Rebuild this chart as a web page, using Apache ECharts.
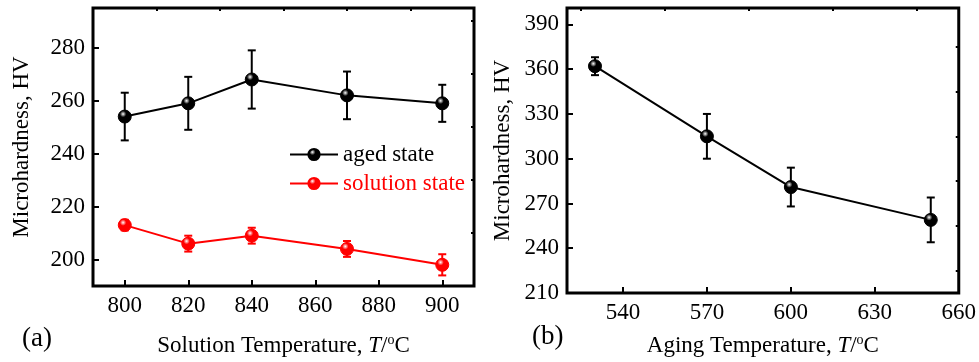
<!DOCTYPE html>
<html>
<head>
<meta charset="utf-8">
<script src="https://cdn.jsdelivr.net/npm/echarts@6/dist/echarts.min.js"></script>
<style>
  html, body { margin: 0; padding: 0; background: #fff; }
  #chart { width: 979px; height: 362px; }
</style>
</head>
<body>
<div id="chart"></div>
<script>
// panel (a): solution temperature
const solTemps = [800, 820, 840, 870, 900];
const agedHV = [254, 259, 268, 262, 259];
const agedErr = [9, 10, 11, 9, 7];
const solutionHV = [213, 206, 209, 204, 198];
const solutionErr = [2, 3, 3, 3, 4];
// panel (b): aging temperature
const agingTemps = [530, 570, 600, 650];
const agingHV = [362, 315, 281, 259];
const agingErr = [6, 15, 13, 15];

// tick positions
const aXTicks = [800, 820, 840, 860, 880, 900];
const aXMinor = [810, 830, 850, 870, 890];
const aYTicks = [200, 220, 240, 260, 280];
const aYMinor = [210, 230, 250, 270, 290];
const bXTicks = [540, 570, 600, 630, 660];
const bXMinor = [525, 555, 585, 615, 645];
const bYTicks = [210, 240, 270, 300, 330, 360, 390];
const bYMinor = [225, 255, 285, 315, 345, 375];

const FONT = '"Liberation Serif", "Times New Roman", serif';

const ball = (c) => new echarts.graphic.RadialGradient(0.38, 0.32, 0.65, [
  { offset: 0, color: '#ffffff' },
  { offset: 0.35, color: c },
  { offset: 1, color: c }
]);

const pairs = (xs, ys) => xs.map((x, i) => [x, ys[i]]);
const errData = (xs, ys, es) => xs.map((x, i) => [x, ys[i] - es[i], ys[i] + es[i]]);

function errBar(color, width) {
  return function (params, api) {
    const lo = api.coord([api.value(0), api.value(1)]);
    const hi = api.coord([api.value(0), api.value(2)]);
    const w = 4;
    const st = { stroke: color, lineWidth: width };
    return {
      type: 'group',
      children: [
        { type: 'line', shape: { x1: lo[0], y1: lo[1], x2: hi[0], y2: hi[1] }, style: st },
        { type: 'line', shape: { x1: lo[0] - w, y1: lo[1], x2: lo[0] + w, y2: lo[1] }, style: st },
        { type: 'line', shape: { x1: hi[0] - w, y1: hi[1], x2: hi[0] + w, y2: hi[1] }, style: st }
      ]
    };
  };
}

const nameStyle = {
  fontFamily: FONT, fontSize: 23, color: '#000',
  rich: {
    i: { fontFamily: FONT, fontSize: 23, fontStyle: 'italic', color: '#000' },
    sup: { fontFamily: FONT, fontSize: 14, color: '#000', verticalAlign: 'bottom', padding: [0, 0, 11, 0] }
  }
};

// main axis: labels + long ticks
function mainAxis(grid, min, max, ticks, extra) {
  return Object.assign({
    type: 'value', gridIndex: grid, min: min, max: max,
    splitLine: { show: false },
    axisLine: { show: false },
    axisTick: { show: true, inside: true, length: 6, customValues: ticks, lineStyle: { color: '#000', width: 2 } },
    axisLabel: { customValues: ticks, fontFamily: FONT, fontSize: 23, color: '#000', margin: 8 },
    nameTextStyle: nameStyle
  }, extra);
}
// extra axis for the short minor ticks
function minorAxis(grid, min, max, ticks) {
  return {
    type: 'value', gridIndex: grid, min: min, max: max,
    splitLine: { show: false },
    axisLine: { show: false },
    axisTick: { show: true, inside: true, length: 3, customValues: ticks, lineStyle: { color: '#000', width: 2 } },
    axisLabel: { show: false }
  };
}

const chart = echarts.init(document.getElementById('chart'));
chart.setOption({
  backgroundColor: '#fff',
  animation: false,
  grid: [
    { left: 93, top: 8, width: 381, height: 281, show: true, borderColor: '#000', borderWidth: 3, backgroundColor: 'transparent' },
    { left: 567, top: 8, width: 393, height: 288, show: true, borderColor: '#000', borderWidth: 3, backgroundColor: 'transparent' }
  ],
  legend: {
    data: [
      { name: 'aged state', textStyle: { color: '#000' } },
      { name: 'solution state', textStyle: { color: '#ff0000' } }
    ],
    orient: 'vertical',
    left: 284, top: 138,
    itemWidth: 48, itemHeight: 14, itemGap: 6,
    textStyle: { fontFamily: FONT, fontSize: 23 }
  },
  graphic: [
    { type: 'text', left: 22, top: 325, style: { text: '(a)', font: '27px ' + FONT, fill: '#000' } },
    { type: 'text', left: 532, top: 323, style: { text: '(b)', font: '27px ' + FONT, fill: '#000' } }
  ],
  xAxis: [
    mainAxis(0, 790, 910, aXTicks, { name: 'Solution Temperature, {i|T}/{sup|o}C', nameLocation: 'middle', nameGap: 47 }),
    minorAxis(0, 790, 910, aXMinor),
    mainAxis(1, 520, 660, bXTicks, { name: 'Aging Temperature, {i|T}/{sup|o}C', nameLocation: 'middle', nameGap: 40 }),
    minorAxis(1, 520, 660, bXMinor)
  ],
  yAxis: [
    mainAxis(0, 190, 295, aYTicks, { name: 'Microhardness, HV', nameLocation: 'middle', nameGap: 60 }),
    minorAxis(0, 190, 295, aYMinor),
    mainAxis(1, 210, 401, bYTicks, { name: 'Microhardness, HV', nameLocation: 'middle', nameGap: 53 }),
    minorAxis(1, 210, 401, bYMinor)
  ],
  series: [
    {
      name: 'aged state', type: 'line', xAxisIndex: 0, yAxisIndex: 0,
      data: pairs(solTemps, agedHV),
      symbol: 'circle', symbolSize: 13, z: 3,
      lineStyle: { color: '#000', width: 2 },
      itemStyle: { color: ball('#000'), borderColor: '#000', borderWidth: 1 }
    },
    {
      type: 'custom', xAxisIndex: 0, yAxisIndex: 0, z: 2,
      data: errData(solTemps, agedHV, agedErr),
      renderItem: errBar('#000', 2)
    },
    {
      name: 'solution state', type: 'line', xAxisIndex: 0, yAxisIndex: 0,
      data: pairs(solTemps, solutionHV),
      symbol: 'circle', symbolSize: 13, z: 3,
      lineStyle: { color: '#ff0000', width: 2 },
      itemStyle: { color: ball('#ff0000'), borderColor: '#ff0000', borderWidth: 1 }
    },
    {
      type: 'custom', xAxisIndex: 0, yAxisIndex: 0, z: 2,
      data: errData(solTemps, solutionHV, solutionErr),
      renderItem: errBar('#ff0000', 2)
    },
    {
      name: 'aging', type: 'line', xAxisIndex: 2, yAxisIndex: 2,
      data: pairs(agingTemps, agingHV),
      symbol: 'circle', symbolSize: 13, z: 3,
      lineStyle: { color: '#000', width: 2 },
      itemStyle: { color: ball('#000'), borderColor: '#000', borderWidth: 1 }
    },
    {
      type: 'custom', xAxisIndex: 2, yAxisIndex: 2, z: 2,
      data: errData(agingTemps, agingHV, agingErr),
      renderItem: errBar('#000', 2)
    }
  ]
});
</script>
</body>
</html>
